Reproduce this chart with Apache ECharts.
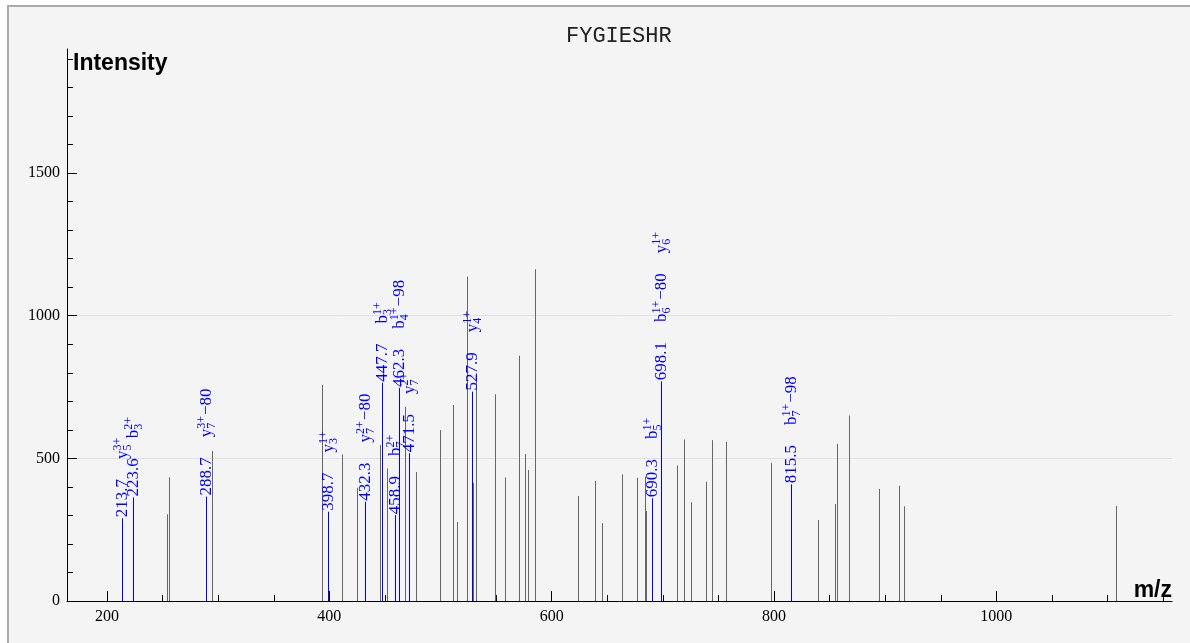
<!DOCTYPE html>
<html><head><meta charset="utf-8">
<script src="https://cdn.jsdelivr.net/npm/echarts@6/dist/echarts.min.js"></script>
<style>
html,body{margin:0;padding:0;background:#fff;overflow:hidden}
#frame{position:absolute;left:7px;top:5px;width:1200px;height:700px;background:#f4f4f4;border:2px solid #aaa;}
#main{position:absolute;left:0;top:0;width:1190px;height:643px;}
</style></head>
<body><div id="frame"></div><div id="main"></div>
<script>
// ---- data ----
const chartTitle = 'FYGIESHR';
const xTickValues = [200, 400, 600, 800, 1000];
const xMinorTickValues = [200, 250, 300, 350, 400, 450, 500, 550, 600, 650, 700, 750, 800, 850, 900, 950, 1000, 1050, 1100, 1150];
const yTickValues = [0, 500, 1000, 1500];
const yMinorTickValues = [0, 100, 200, 300, 400, 500, 600, 700, 800, 900, 1000, 1100, 1200, 1300, 1400, 1500, 1600, 1700, 1800, 1900];

// unannotated peaks
const peakMz = [253.9, 255.7, 294.7, 393.5, 411.8, 425.0, 445.4, 451.7, 468.1, 477.8,
  499.9, 511.0, 514.9, 523.9, 529.3, 532.3, 549.4, 558.0, 571.0, 576.0,
  579.0, 585.3, 623.6, 639.3, 645.6, 663.5, 676.7, 683.6, 684.8, 713.0,
  719.3, 725.2, 739.0, 744.1, 756.4, 797.5, 839.4, 854.7, 856.4, 867.2,
  894.2, 912.5, 917.3, 1107.9];
const peakIntensity = [304, 434, 526, 758, 514, 397, 547, 465, 680, 452,
  599, 687, 277, 1137, 414, 798, 725, 433, 860, 515,
  459, 1163, 368, 421, 273, 444, 432, 436, 315, 475,
  566, 346, 418, 564, 558, 484, 284, 340, 551, 650,
  393, 404, 332, 333];

// annotated (matched) peaks
const annMz = [213.7, 223.6, 288.7, 398.7, 432.3, 447.7, 458.9, 462.3, 471.5, 527.9, 690.3, 698.1, 815.5];
const annIntensity = [290, 363, 366, 313, 348, 765, 301, 747, 518, 734, 360, 770, 409];
// each ion: [ion type, index, charge, neutral loss]
const annIons = [
  [['y', '5', '3+', '']],
  [['b', '3', '2+', '']],
  [['y', '7', '3+', '\u221280']],
  [['y', '3', '1+', '']],
  [['y', '7', '2+', '\u221280']],
  [['b', '3', '1+', '']],
  [['b', '7', '2+', '']],
  [['b', '4', '1+', '\u221298']],
  [['y', '7', '2+', '']],
  [['y', '4', '1+', '']],
  [['b', '5', '1+', '']],
  [['b', '6', '1+', '\u221280'], ['y', '6', '1+', '']],
  [['b', '7', '1+', '\u221298']]
];

// ---- chart ----
const X_MIN = 164, X_MAX = 1158, Y_MAX = 1935;
const SERIF = '"Liberation Serif", "DejaVu Serif", serif';
const measureCtx = document.createElement('canvas').getContext('2d');
function textWidth(s, size) {
  measureCtx.font = size + 'px ' + SERIF;
  return measureCtx.measureText(s).width;
}

function renderPeak(params, api) {
  const p0 = api.coord([api.value(0), 0]);
  const p1 = api.coord([api.value(0), api.value(1)]);
  const x = Math.round(p0[0]) + 0.5;
  return {
    type: 'line',
    shape: { x1: x, y1: p0[1], x2: x, y2: p1[1] },
    style: { stroke: '#666666', lineWidth: 1 }
  };
}

function renderAnnotated(params, api) {
  const mz = api.value(0), inten = api.value(1);
  const p0 = api.coord([mz, 0]);
  const p1 = api.coord([mz, inten]);
  const x = Math.round(p0[0]) + 0.5;
  const children = [{
    type: 'line',
    shape: { x1: x, y1: p0[1], x2: x, y2: p1[1] },
    style: { stroke: '#0000ff', lineWidth: 1 }
  }];
  let y = p1[1] - 1;
  function add(s, size, dv) {
    if (!s) return 0;
    children.push({
      type: 'text', x: x + dv, y: y, rotation: Math.PI / 2,
      style: { text: s, fontSize: size, fontFamily: SERIF, fill: '#0000ff', align: 'left', verticalAlign: 'middle' }
    });
    return textWidth(s, size);
  }
  y -= add(mz.toFixed(1), 17, 0);
  annIons[params.dataIndex].forEach(function (ion) {
    y -= 20;
    y -= add(ion[0], 17, 0);
    const wSup = add(ion[2], 12, -5);
    const wSub = add(ion[1], 12, 5);
    y -= Math.max(wSup, wSub) + 1;
    if (ion[3]) y -= add(ion[3], 17, 0);
  });
  return { type: 'group', children: children };
}

const chart = echarts.init(document.getElementById('main'), null, { renderer: 'canvas' });
const plain = function (v) { return String(v); };
const labelStyle = { fontFamily: SERIF, fontSize: 16, color: '#000', formatter: plain };
chart.setOption({
  backgroundColor: 'transparent',
  animation: false,
  title: {
    text: chartTitle, left: 566, top: 25, padding: 0,
    textStyle: { fontFamily: '"Liberation Mono", "DejaVu Sans Mono", monospace', fontSize: 22, fontWeight: 'normal', color: '#222' }
  },
  grid: { left: 67, right: 18, top: 49, bottom: 42, containLabel: false },
  xAxis: [{
    type: 'value', min: X_MIN, max: X_MAX, position: 'bottom',
    axisLine: { onZero: false, lineStyle: { color: '#000', width: 1 } },
    axisTick: { inside: true, length: 10, customValues: xTickValues, lineStyle: { color: '#000' } },
    axisLabel: Object.assign({ customValues: xTickValues, margin: 8 }, labelStyle),
    splitLine: { show: false }
  }, {
    type: 'value', min: X_MIN, max: X_MAX, position: 'bottom',
    axisLine: { show: false, onZero: false },
    axisTick: { inside: true, length: 6, customValues: xMinorTickValues, lineStyle: { color: '#000' } },
    axisLabel: { show: false },
    splitLine: { show: false }
  }],
  yAxis: [{
    type: 'value', min: 0, max: Y_MAX, position: 'left',
    axisLine: { show: true, onZero: false, lineStyle: { color: '#000', width: 1 } },
    axisTick: { show: true, inside: true, length: 10, customValues: yTickValues, lineStyle: { color: '#000' } },
    axisLabel: Object.assign({ customValues: yTickValues, margin: 7 }, labelStyle),
    splitLine: { show: true, showMinLine: false, showMaxLine: false, lineStyle: { color: '#e0e0e0', width: 1 } }
  }, {
    type: 'value', min: 0, max: Y_MAX, position: 'left',
    axisLine: { show: false, onZero: false },
    axisTick: { show: true, inside: true, length: 6, customValues: yMinorTickValues, lineStyle: { color: '#000' } },
    axisLabel: { show: false },
    splitLine: { show: false }
  }],
  graphic: [
    { type: 'text', left: 73, top: 52, style: { text: 'Intensity', font: 'bold 23px "Liberation Sans", Arial, sans-serif', fill: '#000' } },
    { type: 'text', right: 18, top: 579, style: { text: 'm/z', font: 'bold 23px "Liberation Sans", Arial, sans-serif', fill: '#000' } }
  ],
  series: [{
    type: 'custom', name: 'peaks', xAxisIndex: 0, yAxisIndex: 0,
    renderItem: renderPeak, clip: false,
    data: peakMz.map(function (m, i) { return [m, peakIntensity[i]]; })
  }, {
    type: 'custom', name: 'matched', xAxisIndex: 0, yAxisIndex: 0,
    renderItem: renderAnnotated, clip: false, z: 3,
    data: annMz.map(function (m, i) { return [m, annIntensity[i]]; })
  }]
});
</script>
</body></html>
